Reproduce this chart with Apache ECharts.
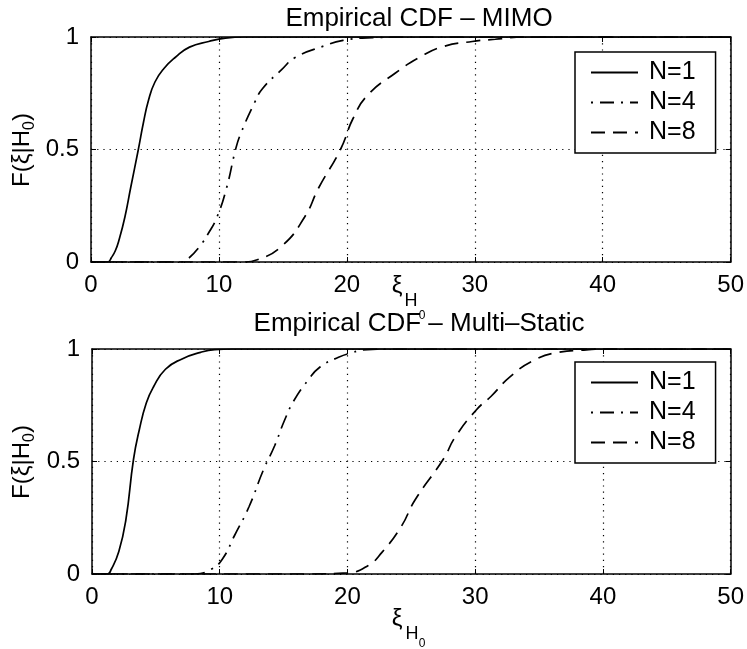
<!DOCTYPE html>
<html>
<head>
<meta charset="utf-8">
<script src="https://cdn.jsdelivr.net/npm/echarts@6/dist/echarts.min.js"></script>
<style>
html,body{margin:0;padding:0;background:#fff;}
#chart{width:747px;height:649px;}
</style>
</head>
<body>
<div id="chart"></div>
<script>
// ---- data ----
const xTicks = [0, 10, 20, 30, 40, 50];
const yTicks = [0, 0.5, 1];
const seriesNames = ['N=1', 'N=4', 'N=8'];
const titles = ['Empirical CDF \u2013 MIMO', 'Empirical CDF \u2013 Multi\u2013Static'];

// MIMO panel  [xi, F]
const mimoN1 = [[0,0],[1.3,0],[1.6,0.02],[1.9,0.05],[2.2,0.1],[2.65,0.2],[3.1,0.33],[3.7,0.5],[4.1,0.62],[4.5,0.72],[5,0.8],[5.7,0.86],[6.6,0.91],[7.7,0.955],[9.2,0.98],[10.5,0.995],[12,1],[50,1]];
const mimoN4 = [[0,0],[7,0],[7.6,0.015],[8.5,0.07],[9.2,0.13],[9.85,0.2],[10.6,0.33],[11.3,0.5],[11.7,0.57],[12.8,0.71],[13.4,0.77],[14.9,0.855],[16,0.91],[18.2,0.96],[19.7,0.985],[22,0.997],[25,1],[50,1]];
const mimoN8 = [[0,0],[12,0],[13,0.01],[14.9,0.07],[16.7,0.2],[17.8,0.33],[19.5,0.5],[20.5,0.64],[21.6,0.74],[23.8,0.84],[25.7,0.91],[27.5,0.957],[29.8,0.98],[31.6,0.99],[34,1],[50,1]];

// Multi-Static panel  [xi, F]
const multiN1 = [[0,0],[1.2,0],[1.5,0.02],[2.1,0.1],[2.65,0.24],[3.25,0.51],[3.7,0.64],[4.25,0.76],[4.8,0.83],[5.75,0.91],[7.05,0.956],[8.5,0.985],[9.6,0.997],[11,1],[50,1]];
const multiN4 = [[0,0],[8,0],[9.3,0.02],[10.2,0.066],[11.15,0.17],[12.3,0.3],[13.4,0.46],[14.3,0.57],[15.05,0.68],[15.8,0.77],[16.9,0.86],[17.85,0.92],[19.3,0.963],[20.45,0.985],[21.2,0.996],[24,1],[50,1]];
const multiN8 = [[0,0],[17,0],[20,0.005],[21.6,0.037],[22.7,0.096],[24.2,0.21],[25.3,0.33],[27.5,0.51],[28.45,0.61],[30.1,0.73],[31.25,0.79],[32.7,0.875],[34.6,0.95],[36.5,0.985],[38.7,0.996],[40,1],[50,1]];

// ---- styling ----
const FONT = '"Liberation Sans", Arial, Helvetica, sans-serif';
const dashes = ['solid', [2, 7, 14, 7], [14, 8]];
const LW = 1.7;

const grids = [
  {left: 91, right: 15, top: 37, height: 225},
  {left: 92, right: 15, top: 349, height: 225}
];

function xAxes(gi) {
  return [
    {type:'value', gridIndex:gi, position:'bottom', min:xTicks[0], max:xTicks[xTicks.length-1], interval:10,
     axisLine:{show:true, onZero:false, lineStyle:{color:'#000', width:1.5}},
     axisTick:{show:true, inside:true, length:5, lineStyle:{color:'#000'}},
     axisLabel:{show:true, color:'#000', fontSize:24, fontFamily:FONT, margin:11},
     splitLine:{show:true, lineStyle:{color:'#000', type:[1.2,5], width:1.2}}},
    {type:'value', gridIndex:gi, position:'top', min:xTicks[0], max:xTicks[xTicks.length-1], interval:10,
     axisLine:{show:true, onZero:false, lineStyle:{color:'#000', width:1.5}},
     axisTick:{show:true, inside:true, length:5, lineStyle:{color:'#000'}},
     axisLabel:{show:false}, splitLine:{show:false}}
  ];
}
function yAxes(gi) {
  return [
    {type:'value', gridIndex:gi, position:'left', min:yTicks[0], max:yTicks[yTicks.length-1], interval:0.5,
     axisLine:{show:true, onZero:false, lineStyle:{color:'#000', width:1.5}},
     axisTick:{show:true, inside:true, length:5, lineStyle:{color:'#000'}},
     axisLabel:{show:true, color:'#000', fontSize:24, fontFamily:FONT, margin:12,
       formatter: v => (v === 0.5 ? '0.5' : String(v))},
     splitLine:{show:true, lineStyle:{color:'#000', type:[1.2,5], width:1.2}}},
    {type:'value', gridIndex:gi, position:'right', min:yTicks[0], max:yTicks[yTicks.length-1], interval:0.5,
     axisLine:{show:true, onZero:false, lineStyle:{color:'#000', width:1.5}},
     axisTick:{show:true, inside:true, length:5, lineStyle:{color:'#000'}},
     axisLabel:{show:false}, splitLine:{show:false}}
  ];
}

const panelData = [[mimoN1, mimoN4, mimoN8], [multiN1, multiN4, multiN8]];
const series = [];
panelData.forEach((arr, gi) => {
  arr.forEach((d, si) => {
    series.push({
      type:'line', name:seriesNames[si], data:d,
      xAxisIndex: gi*2, yAxisIndex: gi*2,
      showSymbol:false, symbol:'none', smooth:0.5,
      lineStyle:{color:'#000', width:LW, type:dashes[si]},
      itemStyle:{color:'#000'},
      z: 5, animation:false
    });
  });
});

function legend(top) {
  return {
    data: seriesNames, orient:'vertical', left:575, top:top,
    padding:[8, 20, 8, 15], itemWidth:47, itemHeight:14, itemGap:5,
    backgroundColor:'#fff', borderColor:'#000', borderWidth:1.5, borderRadius:0,
    itemStyle:{opacity:0, borderWidth:0},
    textStyle:{color:'#000', fontSize:25, fontFamily:FONT, padding:[0,0,0,6], lineHeight:24},
    selectedMode:false, z:10
  };
}

function txt(x, y, s, size, extra) {
  return Object.assign({type:'text', x:x, y:y, z:20, style:{text:s, fill:'#000', font: size + 'px ' + FONT, align:'center', verticalAlign:'middle'}}, extra||{});
}

function yLabel(cy) {
  return {type:'text', x:22, y:cy, rotation:Math.PI/2, z:20,
    style:{text:'{a|F(\u03BE|H}{s|0}{a|)}', align:'center', verticalAlign:'middle', fill:'#000',
      rich:{a:{fontSize:24, fontFamily:FONT, lineHeight:32, verticalAlign:'middle', fill:'#000'},
            s:{fontSize:16, fontFamily:FONT, lineHeight:32, verticalAlign:'bottom', fill:'#000', padding:[10,0,0,0]}}}};
}

const option = {
  backgroundColor:'#fff',
  animation:false,
  title: [
    {text: titles[0], left:414, top:1, textAlign:'center', textStyle:{fontSize:26, fontWeight:'normal', fontFamily:FONT, color:'#000'}},
    {text: titles[1], left:414, top:306, textAlign:'center', textStyle:{fontSize:26, fontWeight:'normal', fontFamily:FONT, color:'#000'}}
  ],
  grid: grids,
  xAxis: xAxes(0).concat(xAxes(1)),
  yAxis: yAxes(0).concat(yAxes(1)),
  legend: [legend(52), legend(362)],
  series: series,
  graphic: [
    yLabel(150), yLabel(462),
    txt(397, 286, '\u03BE', 24),
    txt(411, 301, 'H', 18),
    txt(422, 316, '0', 12),
    txt(397, 619, '\u03BE', 24),
    txt(412, 634, 'H', 18),
    txt(422, 644, '0', 12)
  ]
};

const chart = echarts.init(document.getElementById('chart'), null, {renderer:'canvas'});
chart.setOption(option);
</script>
</body>
</html>
